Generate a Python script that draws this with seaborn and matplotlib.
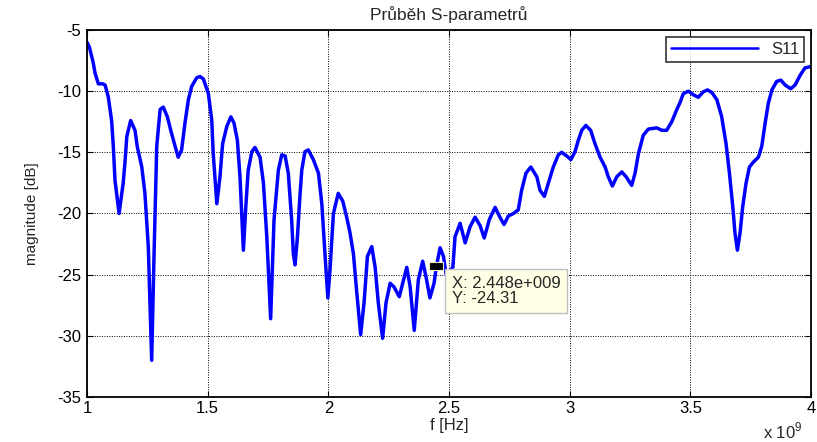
import matplotlib
matplotlib.use("Agg")
import matplotlib.pyplot as plt
import seaborn as sns
import pandas as pd
import numpy as np

freq_ghz = [1.000, 1.010, 1.026, 1.033, 1.047, 1.065, 1.075, 1.088, 1.102, 1.109, 1.116, 1.133,
            1.150, 1.157, 1.165, 1.181, 1.199, 1.208, 1.227, 1.240, 1.254, 1.268, 1.278, 1.289,
            1.303, 1.316, 1.333, 1.347, 1.365, 1.378, 1.392, 1.406, 1.420, 1.434, 1.455, 1.468,
            1.482, 1.503, 1.517, 1.523, 1.538, 1.551, 1.562, 1.579, 1.596, 1.609, 1.623, 1.634,
            1.648, 1.658, 1.668, 1.683, 1.696, 1.717, 1.731, 1.745, 1.761, 1.775, 1.793, 1.807,
            1.821, 1.834, 1.848, 1.855, 1.862, 1.872, 1.883, 1.890, 1.903, 1.917, 1.938, 1.959,
            1.973, 1.986, 1.998, 2.007, 2.021, 2.041, 2.060, 2.076, 2.090, 2.104, 2.118, 2.134,
            2.148, 2.162, 2.180, 2.194, 2.207, 2.225, 2.239, 2.256, 2.272, 2.294, 2.308, 2.325,
            2.339, 2.356, 2.373, 2.391, 2.405, 2.421, 2.438, 2.448, 2.463, 2.477, 2.488, 2.516,
            2.525, 2.546, 2.567, 2.587, 2.608, 2.629, 2.646, 2.667, 2.691, 2.711, 2.728, 2.746,
            2.767, 2.787, 2.801, 2.819, 2.839, 2.864, 2.877, 2.895, 2.912, 2.932, 2.953, 2.967,
            2.988, 3.005, 3.022, 3.036, 3.050, 3.067, 3.087, 3.105, 3.126, 3.147, 3.160, 3.177,
            3.195, 3.216, 3.234, 3.257, 3.271, 3.285, 3.305, 3.326, 3.361, 3.382, 3.402, 3.423,
            3.444, 3.458, 3.471, 3.492, 3.513, 3.533, 3.554, 3.571, 3.589, 3.610, 3.630, 3.648,
            3.662, 3.676, 3.685, 3.695, 3.706, 3.717, 3.731, 3.745, 3.761, 3.782, 3.796, 3.810,
            3.823, 3.838, 3.858, 3.875, 3.893, 3.916, 3.934, 3.955, 3.975, 3.996]

s11_db = [-6.0, -6.4, -7.7, -8.5, -9.4, -9.4, -9.5, -10.45, -12.4, -14.5, -17.3, -20.0,
          -17.5, -15.9, -13.7, -12.4, -13.2, -14.5, -16.2, -18.35, -22.7, -32.0, -23.2, -14.5,
          -11.5, -11.3, -12.1, -13.2, -14.5, -15.4, -14.8, -12.6, -10.7, -9.6, -8.9, -8.8,
          -9.0, -10.2, -12.4, -15.1, -19.2, -17.0, -14.3, -12.9, -12.1, -12.6, -14.0, -17.0,
          -23.0, -19.45, -16.45, -14.95, -14.6, -15.4, -17.5, -21.9, -28.6, -20.5, -16.45, -15.2,
          -15.3, -16.7, -20.5, -23.3, -24.2, -21.9, -18.35, -16.45, -14.95, -14.8, -15.6, -16.7,
          -19.2, -23.3, -26.9, -24.6, -20.0, -18.35, -19.0, -20.3, -21.6, -23.3, -26.5, -29.9,
          -27.3, -23.5, -22.7, -24.4, -27.3, -30.2, -27.3, -25.7, -26.0, -26.8, -25.7, -24.4,
          -26.0, -29.55, -25.4, -23.9, -25.2, -26.9, -25.7, -24.31, -22.8, -23.5, -25.0, -24.4,
          -21.9, -20.8, -22.4, -21.1, -20.3, -21.0, -22.0, -20.5, -19.5, -20.3, -20.9, -20.2,
          -20.0, -19.7, -18.1, -16.7, -16.2, -17.0, -18.1, -18.6, -17.5, -16.2, -15.2, -15.0,
          -15.3, -15.6, -14.95, -14.0, -13.2, -12.8, -13.2, -14.3, -15.4, -16.2, -17.0, -17.75,
          -17.0, -16.6, -17.0, -17.7, -16.7, -15.1, -13.6, -13.1, -13.0, -13.2, -13.2, -12.5,
          -11.5, -10.9, -10.2, -10.0, -10.3, -10.5, -10.05, -9.9, -10.1, -10.7, -12.1, -14.3,
          -16.7, -19.45, -21.6, -23.0, -21.6, -19.45, -17.5, -16.2, -15.8, -15.4, -14.5, -12.6,
          -11.0, -9.9, -9.2, -9.1, -9.5, -9.8, -9.5, -8.7, -8.1, -8.0]

series_name = "S11"
title_text = "Průběh S-parametrů"
xlabel_text = "f [Hz]"
ylabel_text = "magnitude [dB]"
offset_text = r"x 10$^9$"
xticks_ghz = [1, 1.5, 2, 2.5, 3, 3.5, 4]
xtick_labels = ["1", "1.5", "2", "2.5", "3", "3.5", "4"]
yticks = [-35, -30, -25, -20, -15, -10, -5]
tip_x = 2.448e9
tip_y = -24.31
tip_text = "X: 2.448e+009\nY: -24.31"

df = pd.DataFrame({"f": np.array(freq_ghz) * 1e9, "mag": s11_db, "series": series_name})

sns.set_style("white")
plt.rcParams["font.family"] = ["Liberation Sans", "DejaVu Sans"]
plt.rcParams["mathtext.fontset"] = "custom"
plt.rcParams["mathtext.rm"] = "Liberation Sans"

FS = 12

fig = plt.figure(figsize=(8.17, 4.42), dpi=100)
ax = fig.add_axes([87 / 817, 1 - 397 / 442, (811 - 87) / 817, (397 - 30) / 442])

sns.lineplot(data=df, x="f", y="mag", hue="series", palette=["#0000ff"],
             linewidth=2.5, ax=ax, sort=False, estimator=None)

ax.set_xlim(1e9, 4e9)
ax.set_ylim(-35, -5)
ax.set_xticks([t * 1e9 for t in xticks_ghz])
ax.set_xticklabels(xtick_labels, fontsize=FS)
ax.set_yticks(yticks)
ax.set_yticklabels([str(v) for v in yticks], fontsize=FS)
ax.tick_params(axis="y", direction="in", length=4, width=0.8, colors="black", pad=4,
               left=True, right=True)
ax.tick_params(axis="x", direction="in", length=4, width=0.8, colors="black", pad=3,
               top=True, bottom=True)
ax.grid(True, color="black", linestyle=(0, (1, 1.5)), linewidth=0.7)
for sp in ax.spines.values():
    sp.set_color("black")
    sp.set_linewidth(1.3)

ax.set_title(title_text, fontsize=12.5, pad=7)
ax.set_xlabel(xlabel_text, fontsize=FS, labelpad=1)
ax.set_ylabel(ylabel_text, fontsize=11, labelpad=13)
fig.text(763 / 817, 1 - 438 / 442, offset_text, fontsize=FS, ha="left", va="baseline")

leg = ax.legend(loc="upper right", bbox_to_anchor=(0.991, 0.981), fontsize=FS,
                frameon=True, fancybox=False, edgecolor="black", handlelength=5.2,
                borderpad=0.3, handletextpad=0.8, borderaxespad=0)
leg.get_frame().set_linewidth(1.2)
for h in leg.get_lines():
    h.set_linewidth(1.8)

rect_marker = [(-1, -0.6), (1, -0.6), (1, 0.6), (-1, 0.6), (-1, -0.6)]
ax.plot([tip_x], [tip_y], marker=rect_marker, markersize=9.5, color="black",
        markeredgecolor="#f0f0c0", markeredgewidth=0.8, linestyle="none")
ax.annotate(tip_text, xy=(tip_x, tip_y), xytext=(11, -7),
            textcoords="offset points", ha="left", va="top", fontsize=12,
            linespacing=1.0,
            bbox=dict(boxstyle="square,pad=0.4", fc="#ffffe6", ec="#c0c0c0", lw=1.0))

fig.savefig("out.png", dpi=100)
